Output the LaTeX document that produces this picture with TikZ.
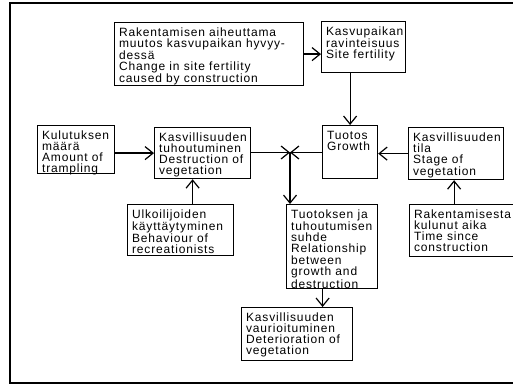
\documentclass[tikz,border=0pt]{standalone}
\usepackage{fontspec}
\setmainfont[LetterSpace=7]{Liberation Sans}
\usetikzlibrary{arrows.meta}
\newcommand\bxt[3]{\parbox[t][#2pt][t]{#1pt}{\fontsize{12}{11}\selectfont\leftskip=4.5pt\rule{0pt}{13.5pt}#3}}
\begin{document}
\begin{tikzpicture}[x=1pt,y=-1pt,
  bx/.style={draw,line width=1.2pt,inner sep=0pt,anchor=north west},
  ln/.style={line width=1.2pt},
  >={Straight Barb[length=8pt,width=13pt]}]
\useasboundingbox (0,0) rectangle (513,387);
\draw[ln] (516,3) -- (10,3) -- (10,383) -- (516,383);

\node[bx] (B1) at (114,22) {\bxt{189}{63}{Rakentamisen aiheuttama\\muutos kasvupaikan hyvyy-\\dessä\\[0.5pt]Change in site fertility\\caused by construction}};
\node[bx] (B2) at (321,21) {\bxt{84}{51}{Kasvupaikan\\ravinteisuus\\Site fertility}};
\node[bx] (B3) at (37,125) {\bxt{77}{48}{Kulutuksen\\määrä\\[0.5pt]Amount of\\trampling}};
\node[bx] (B4) at (154,127) {\bxt{96}{51}{Kasvillisuuden\\tuhoutuminen\\[0.5pt]Destruction of\\vegetation}};
\node[bx] (B5) at (322,125) {\bxt{55}{53}{Tuotos\\Growth}};
\node[bx] (B6) at (408,127) {\bxt{95}{52}{Kasvillisuuden\\tila\\[0.5pt]Stage of\\vegetation}};
\node[bx] (B7) at (127,204) {\bxt{106}{51}{Ulkoilijoiden\\käyttäytyminen\\[0.5pt]Behaviour of\\recreationists}};
\node[bx] (B8) at (286,204) {\bxt{91}{84}{Tuotoksen ja\\tuhoutumisen\\suhde\\[0.5pt]Relationship\\between\\growth and\\destruction}};
\node[bx] (B9) at (409,204) {\bxt{107}{52}{Rakentamisesta\\kulunut aika\\[0.5pt]Time since\\construction}};
\node[bx] (B10) at (241,307) {\bxt{111}{53}{Kasvillisuuden\\vaurioituminen\\[0.5pt]Deterioration of\\vegetation}};

\coordinate (J) at (290,152.5);

\draw[ln,->] (B1.east) -- (B2.west |- B1.east);
\draw[ln,->] (B2.south -| B5.north) -- (B5.north);
\draw[ln,->] (B3.east |- B4.west) -- (B4.west);
\draw[ln,->] (B4.east |- J) -- (J);
\draw[ln,->] (B5.west |- J) -- (J);
\draw[ln,->] (J) -- (J |- B8.north);
\draw[ln,->] ([xshift=12pt]B7.north) -- ([xshift=12pt]B7.north |- B4.south);
\draw[ln,->] (B6.west) -- (B5.east |- B6.west);
\draw[ln,->] ([xshift=-2pt]B6.south |- B9.north) -- ([xshift=-2pt]B6.south);
\draw[ln,->] ([xshift=-9.5pt]B8.south) -- ([xshift=-9.5pt]B8.south |- B10.north);
\end{tikzpicture}
\end{document}
